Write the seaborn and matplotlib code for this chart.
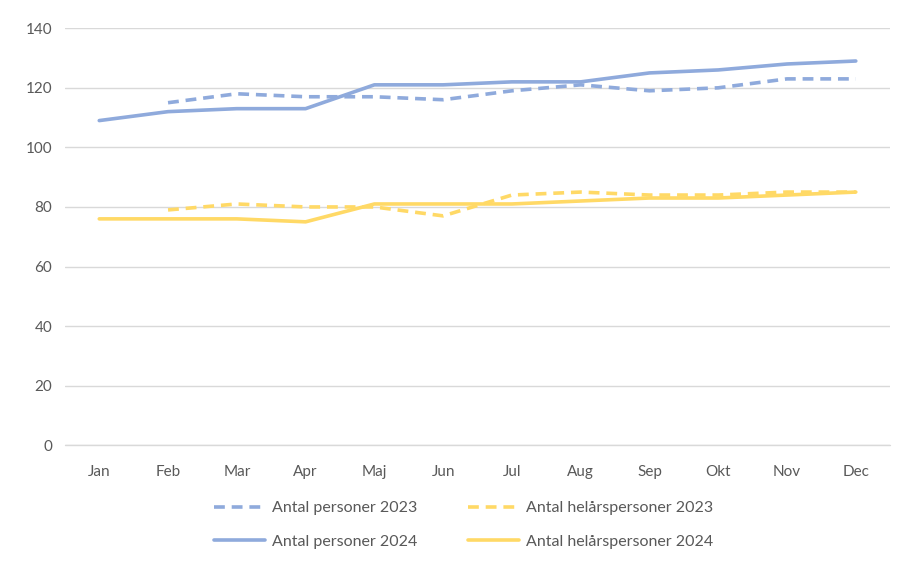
import numpy as np
import pandas as pd
import seaborn as sns
import matplotlib.pyplot as plt

months = ["Jan", "Feb", "Mar", "Apr", "Maj", "Jun", "Jul", "Aug", "Sep", "Okt", "Nov", "Dec"]
personer_2023 = [np.nan, 115, 118, 117, 117, 116, 119, 121, 119, 120, 123, 123]
personer_2024 = [109, 112, 113, 113, 121, 121, 122, 122, 125, 126, 128, 129]
helar_2023 = [np.nan, 79, 81, 80, 80, 77, 84, 85, 84, 84, 85, 85]
helar_2024 = [76, 76, 76, 75, 81, 81, 81, 82, 83, 83, 84, 85]

BLUE = "#8FAADC"
YELLOW = "#FFD966"
GREY = "#595959"

sns.set_theme(style="white")
plt.rcParams["font.family"] = ["Lato", "DejaVu Sans"]

fig = plt.figure(figsize=(9.01, 5.65), dpi=100)
ax = fig.add_axes([0.072, 0.212, 0.916, 0.738])

x = np.arange(len(months))
series = [
    ("Antal personer 2023", personer_2023, BLUE, True),
    ("Antal personer 2024", personer_2024, BLUE, False),
    ("Antal helårspersoner 2023", helar_2023, YELLOW, True),
    ("Antal helårspersoner 2024", helar_2024, YELLOW, False),
]
for label, vals, color, dashed in series:
    df = pd.DataFrame({"x": x, "y": vals}).dropna()
    sns.lineplot(data=df, x="x", y="y", ax=ax, color=color, lw=2.6,
                 label=label, solid_capstyle="round")
    ln = ax.lines[-1]
    if dashed:
        ln.set_dashes((3.0, 1.9))

ax.set_xlim(-0.5, 11.5)
ax.set_ylim(0, 140)
ax.set_yticks(range(0, 141, 20))
ax.set_xticks(x)
ax.set_xticklabels(months)
ax.set_xlabel("")
ax.set_ylabel("")
ax.grid(axis="y", color="#D9D9D9", lw=1)
ax.axhline(0, color="#D9D9D9", lw=1, clip_on=False, zorder=0)
ax.set_axisbelow(True)
for s in ax.spines.values():
    s.set_visible(False)
ax.tick_params(axis="both", length=0, colors=GREY, labelsize=11)
ax.tick_params(axis="x", pad=14)
ax.tick_params(axis="y", pad=9)

leg = ax.legend(loc="upper center", bbox_to_anchor=(0.483, -0.1), ncol=2, frameon=False,
                fontsize=11.5, handlelength=3.2, columnspacing=3.2, labelspacing=1.2,
                handletextpad=0.4)
for t in leg.get_texts():
    t.set_color(GREY)

fig.savefig("out.png", dpi=100)
